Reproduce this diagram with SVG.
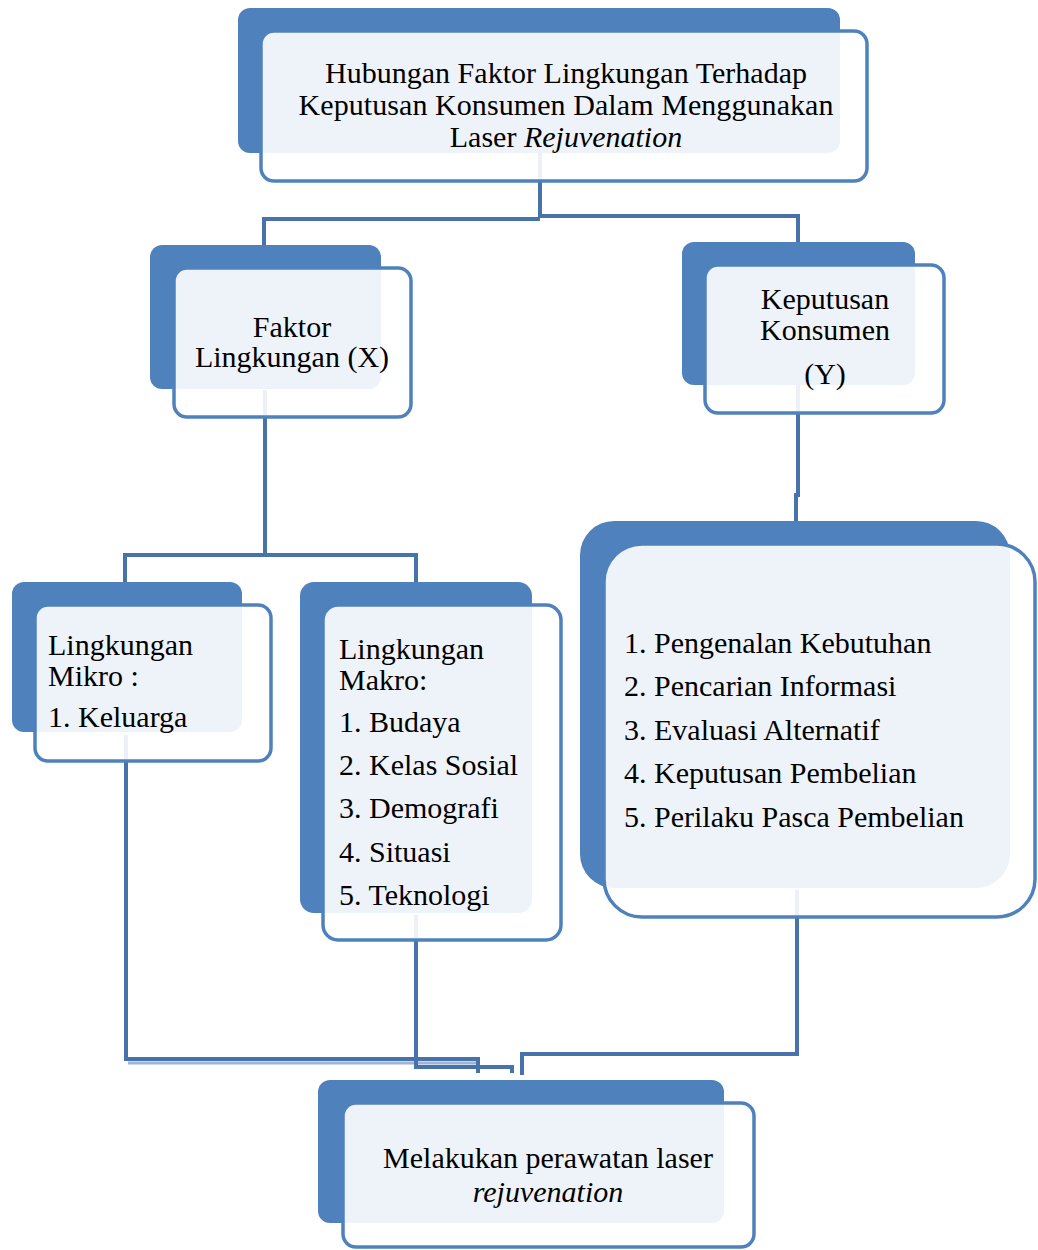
<svg xmlns="http://www.w3.org/2000/svg" width="1038" height="1250" viewBox="0 0 1038 1250">
<style>
.bk{fill:#4F81BD}
.fr{fill:#ffffff;fill-opacity:0.9;stroke:#4F81BD;stroke-width:3.5}
.t{font-family:"Liberation Serif","Times New Roman",serif;font-size:30px;fill:#000}
.c{text-anchor:middle}
.i{font-style:italic}
.ln{fill:none;stroke:#4773AA;stroke-width:4}
.lt{fill:none;stroke:#9DB5D8;stroke-width:3}
</style>
<rect width="1038" height="1250" fill="#ffffff"/>
<g id="connectors">
<path class="ln" d="M540,150 V217 M264,248 V219 H540 M540,216 H798 V245"/>
<path class="ln" d="M265,390 V555 M125,585 V555 H416 V585"/>
<path class="ln" d="M798,385 V495 H796 V523"/>
<path class="lt" d="M128,1063 H478"/>
<path class="ln" d="M126,735 V1059 H478 V1073"/>
<path class="ln" d="M416,915 V1067 H512 V1073"/>
<path class="ln" d="M797,890 V1054 H522 V1075"/>
</g>
<g id="node-title">
<rect class="bk" x="238" y="8" width="602" height="145" rx="12"/>
<rect class="fr" x="261" y="31" width="606" height="150" rx="13"/>
<text class="t c" x="566" y="83" textLength="482">Hubungan Faktor Lingkungan Terhadap</text>
<text class="t c" x="566" y="115" textLength="535">Keputusan Konsumen Dalam Menggunakan</text>
<text class="t c" x="566" y="147">Laser <tspan class="i">Rejuvenation</tspan></text>
</g>
<g id="node-faktor">
<rect class="bk" x="150" y="245" width="231" height="144" rx="12"/>
<rect class="fr" x="174" y="268" width="237" height="149" rx="13"/>
<text class="t c" x="292" y="337">Faktor</text>
<text class="t c" x="292" y="367">Lingkungan (X)</text>
</g>
<g id="node-keputusan">
<rect class="bk" x="682" y="242" width="233" height="143" rx="12"/>
<rect class="fr" x="705" y="265" width="239" height="148" rx="13"/>
<text class="t c" x="825" y="309">Keputusan</text>
<text class="t c" x="825" y="340">Konsumen</text>
<text class="t c" x="825" y="384">(Y)</text>
</g>
<g id="node-mikro">
<rect class="bk" x="12" y="582" width="230" height="150" rx="12"/>
<rect class="fr" x="35" y="605" width="236" height="156" rx="13"/>
<text class="t" x="48" y="655">Lingkungan</text>
<text class="t" x="48" y="686">Mikro :</text>
<text class="t" x="48" y="727">1. Keluarga</text>
</g>
<g id="node-makro">
<rect class="bk" x="300" y="582" width="232" height="331" rx="14"/>
<rect class="fr" x="323" y="605" width="238" height="335" rx="15"/>
<text class="t" x="339" y="659">Lingkungan</text>
<text class="t" x="339" y="690">Makro:</text>
<text class="t" x="339" y="732">1. Budaya</text>
<text class="t" x="339" y="775">2. Kelas Sosial</text>
<text class="t" x="339" y="818">3. Demografi</text>
<text class="t" x="339" y="862">4. Situasi</text>
<text class="t" x="339" y="905">5. Teknologi</text>
</g>
<g id="node-proses">
<rect class="bk" x="580" y="521" width="430" height="367" rx="34"/>
<rect class="fr" x="604" y="544" width="431" height="373" rx="38"/>
<text class="t" x="624" y="653">1. Pengenalan Kebutuhan</text>
<text class="t" x="624" y="696">2. Pencarian Informasi</text>
<text class="t" x="624" y="740">3. Evaluasi Alternatif</text>
<text class="t" x="624" y="783">4. Keputusan Pembelian</text>
<text class="t" x="624" y="827">5. Perilaku Pasca Pembelian</text>
</g>
<g id="node-perawatan">
<rect class="bk" x="318" y="1080" width="406" height="143" rx="12"/>
<rect class="fr" x="343" y="1103" width="411" height="144" rx="13"/>
<text class="t c" x="548" y="1168">Melakukan perawatan laser</text>
<text class="t c i" x="548" y="1202">rejuvenation</text>
</g>
</svg>
